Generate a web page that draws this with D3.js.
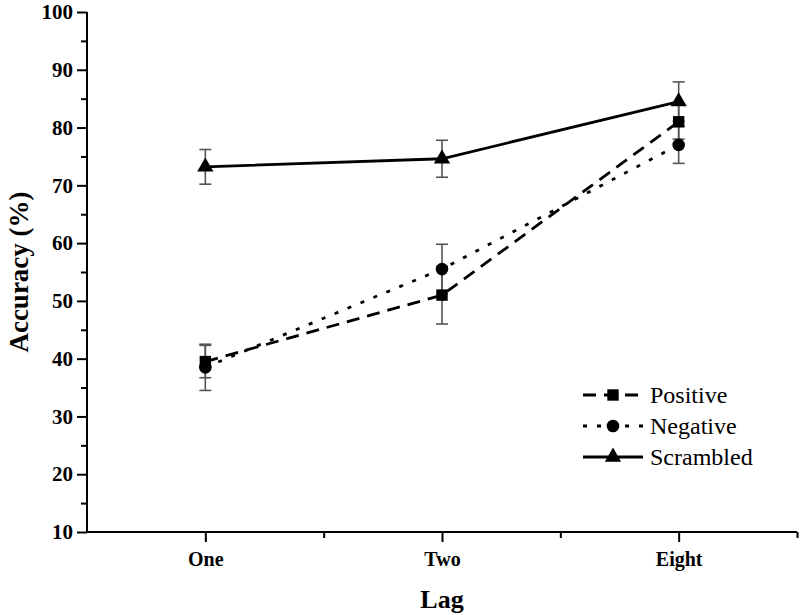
<!DOCTYPE html>
<html><head><meta charset="utf-8">
<script src="https://cdn.jsdelivr.net/npm/d3@7"></script>
<style>body{margin:0;background:#fff}svg{display:block}</style>
</head><body><svg id="c" width="800" height="615"></svg>
<script>
const categories = ["One","Two","Eight"];
const positive = [39.5, 51.0, 81.0];
const positiveErr = [2.8, 5.0, 3.0];
const negative = [38.5, 55.5, 77.0];
const negativeErr = [4.0, 4.3, 3.2];
const scrambled = [73.2, 74.6, 84.5];
const scrambledErr = [3.0, 3.2, 3.4];
const yTicks = [10,20,30,40,50,60,70,80,90,100];
const yMinor = [15,25,35,45,55,65,75,85,95];
const seriesNames = ["Positive","Negative","Scrambled"];

const svg = d3.select("#c");
const x = d3.scaleLinear().domain([-0.5, 2.5]).range([87, 797]);
const y = d3.scaleLinear().domain([10, 100]).range([532, 12]);
const serif = "'Liberation Serif','Times New Roman',serif";

const gy = svg.append("g").attr("transform","translate(87,0)")
  .call(d3.axisLeft(y).tickValues(yTicks).tickSize(10).tickPadding(4).tickFormat(d3.format("d")));
const gym = svg.append("g").attr("transform","translate(87,0)")
  .call(d3.axisLeft(y).tickValues(yMinor).tickSize(6).tickFormat(""));
const gx = svg.append("g").attr("transform","translate(0,532)")
  .call(d3.axisBottom(x).tickValues([0,1,2]).tickSize(10).tickPadding(10).tickFormat(i => categories[i]));
const gxm = svg.append("g").attr("transform","translate(0,532)")
  .call(d3.axisBottom(x).tickValues([0.5,1.5,2.5]).tickSize(6).tickFormat(""));
[gy,gym,gx,gxm].forEach(g=>{
  g.select(".domain").attr("stroke","#000").attr("stroke-width",2);
  g.selectAll(".tick line").attr("stroke","#000").attr("stroke-width",2);
  g.selectAll("text").attr("fill","#000").style("font-family",serif).style("font-weight","bold").style("font-size","20px");
});
gy.selectAll("text").style("font-size","21px");
gym.select(".domain").remove(); gxm.select(".domain").remove();
gy.select(".domain").attr("d","M0,532V12");
gx.select(".domain").attr("d","M87,0H797");

svg.append("text").attr("x",442).attr("y",608).attr("text-anchor","middle")
  .style("font-family",serif).style("font-weight","bold").style("font-size","26px").text("Lag");
svg.append("text").attr("transform","translate(28,272) rotate(-90)").attr("text-anchor","middle")
  .style("font-family",serif).style("font-weight","bold").style("font-size","27px").text("Accuracy (%)");

const series = [
  {name:seriesNames[0], vals:positive, err:positiveErr, dash:"13,8", sym:d3.symbolSquare, size:130},
  {name:seriesNames[1], vals:negative, err:negativeErr, dash:"4,10", sym:d3.symbolCircle, size:125},
  {name:seriesNames[2], vals:scrambled, err:scrambledErr, dash:null, sym:d3.symbolTriangle, size:115}
];
const line = d3.line().x((d,i)=>x(i)).y(d=>y(d));
series.forEach(s=>{
  svg.append("path").attr("d",line(s.vals)).attr("fill","none").attr("stroke","#000")
    .attr("stroke-width",2.8).attr("stroke-dasharray",s.dash);
});
series.forEach(s=>{
  const g = svg.append("g").attr("stroke","#555").attr("stroke-width",1.6);
  s.vals.forEach((v,i)=>{
    const cx=x(i), t=y(v+s.err[i]), b=y(v-s.err[i]);
    g.append("line").attr("x1",cx).attr("x2",cx).attr("y1",t).attr("y2",b);
    g.append("line").attr("x1",cx-6).attr("x2",cx+6).attr("y1",t).attr("y2",t);
    g.append("line").attr("x1",cx-6).attr("x2",cx+6).attr("y1",b).attr("y2",b);
  });
});
series.forEach(s=>{
  svg.append("g").selectAll("path").data(s.vals).join("path")
    .attr("transform",(d,i)=>`translate(${x(i)},${y(d)})`)
    .attr("d",d3.symbol().type(s.sym).size(s.size)).attr("fill","#000");
});

const lg = svg.append("g");
series.forEach((s,k)=>{
  const yy = 395 + k*31;
  lg.append("line").attr("x1",583).attr("x2",643).attr("y1",yy).attr("y2",yy)
    .attr("stroke","#000").attr("stroke-width",2.8).attr("stroke-dasharray",s.dash);
  lg.append("path").attr("transform",`translate(613,${yy})`).attr("d",d3.symbol().type(s.sym).size(s.size)).attr("fill","#000");
  lg.append("text").attr("x",650).attr("y",yy).attr("dy","0.35em")
    .style("font-family",serif).style("font-size","24px").text(s.name);
});
</script></body></html>
